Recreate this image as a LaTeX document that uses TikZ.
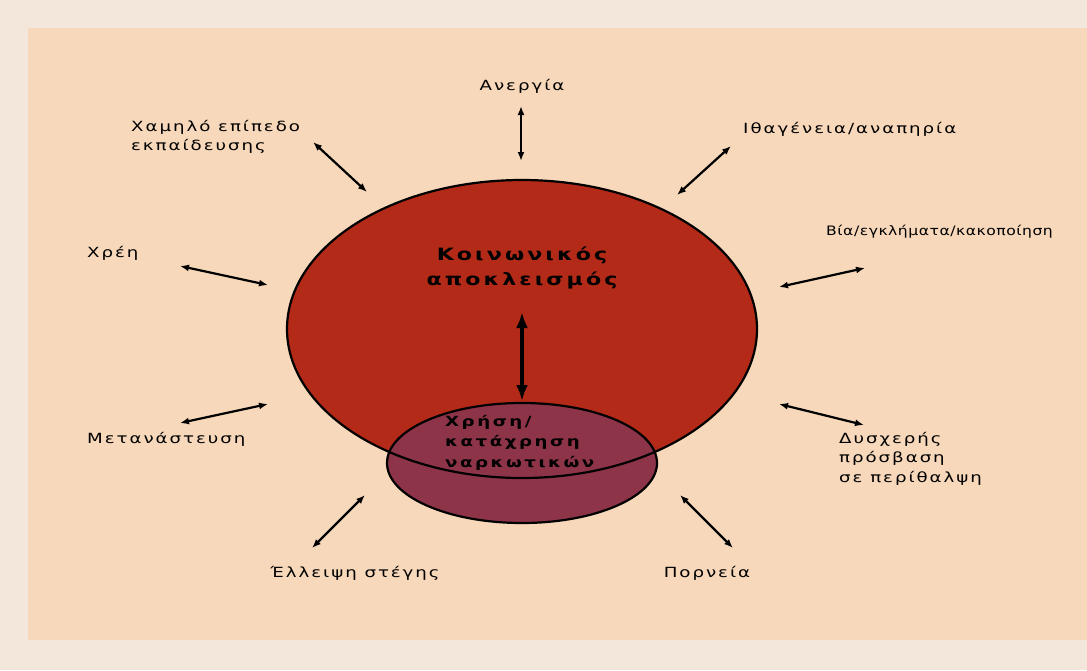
\documentclass[tikz,border=0pt]{standalone}
\usepackage{fontspec}
\usepackage{tikz}
\usetikzlibrary{arrows.meta, shapes.geometric}
\newfontfamily\lblfont[FakeStretch=1.3, LetterSpace=14]{DejaVu Sans}
\newfontfamily\narrowfont[FakeStretch=1.2, LetterSpace=4]{DejaVu Sans}
\newfontfamily\midfont[FakeStretch=1.3, LetterSpace=18]{DejaVu Sans}
\definecolor{pagecolor}{RGB}{243,230,218}
\definecolor{peachcolor}{RGB}{247,216,186}
\definecolor{exclcolor}{RGB}{180,42,24}
\definecolor{drugcolor}{RGB}{142,52,72}
\tikzset{
  factor/.style={font=\lblfont\fontsize{14}{19.5}\selectfont, align=left,
                 inner sep=0pt},
  link/.style={{Latex[length=9pt,width=7pt]}-{Latex[length=9pt,width=7pt]},
               line width=2.2pt, draw=black},
  biglink/.style={{Latex[length=16pt,width=12pt]}-{Latex[length=16pt,width=12pt]},
                  line width=4.5pt, draw=black},
  inner/.style={font=\midfont\bfseries\fontsize{14}{20.5}\selectfont,
                align=left, inner sep=0pt},
}

\begin{document}
\begin{tikzpicture}[x=1pt, y=-1pt]
  % Background
  \fill[pagecolor] (0,0) rectangle (1087,670);
  \useasboundingbox (0,0) rectangle (1087,670);
  \fill[peachcolor] (28,28) rectangle (1087,640);

  % Ellipses
  \node[ellipse, fill=exclcolor, minimum width=470pt, minimum height=298pt,
        inner sep=0pt] (excl) at (522,329) {};
  \node[ellipse, draw, line width=2.2pt, fill=drugcolor, minimum width=270pt,
        minimum height=120pt, inner sep=0pt] (drug) at (522,463) {};
  \draw[line width=2.2pt] (522,329) ellipse [x radius=235, y radius=149];

  % Centre texts
  \node[font=\midfont\bfseries\fontsize{17}{25}\selectfont, align=center,
        inner sep=0pt] (title) at (522,268) {Κοινωνικός\\αποκλεισμός};
  \node[inner, anchor=north west] (use) at (445,415)
    {Χρήση/\\κατάχρηση\\ναρκωτικών};
  \coordinate (cTop) at (522,312);
  \coordinate (cBot) at (522,401);
  \draw[biglink] (cTop) -- (cBot);

  % Factors
  \node[factor, anchor=south] (unemp) at (522,94) {Ανεργία};
  \node[factor, anchor=north west] (edu) at (131,120)
    {Χαμηλό επίπεδο\\εκπαίδευσης};
  \node[factor, anchor=north west] (citi) at (743,122)
    {Ιθαγένεια/αναπηρία};
  \node[factor, anchor=north west, font=\narrowfont\fontsize{13}{19.5}\selectfont]
    (crime) at (826,225) {Βία/εγκλήματα/κακοποίηση};
  \node[factor, anchor=north west] (debt) at (87,246) {Χρέη};
  \node[factor, anchor=north west] (migr) at (87,432) {Μετανάστευση};
  \node[factor, anchor=north west] (care) at (839,432)
    {Δυσχερής\\πρόσβαση\\σε περίθαλψη};
  \node[factor, anchor=north] (home) at (355,566) {Έλλειψη στέγης};
  \node[factor, anchor=north] (prost) at (707,566) {Πορνεία};

  % Arrow ends
  \coordinate (u1) at (521,106);  \coordinate (u2) at (521,161);
  \coordinate (e1) at (313,142);  \coordinate (e2) at (367,192);
  \coordinate (i1) at (731,146);  \coordinate (i2) at (677,195);
  \coordinate (v1) at (865,268);  \coordinate (v2) at (779,287);
  \coordinate (d1) at (180,266);  \coordinate (d2) at (268,285);
  \coordinate (m1) at (180,423);  \coordinate (m2) at (268,404);
  \coordinate (p1) at (864,425);  \coordinate (p2) at (779,404);
  \coordinate (h1) at (312,548);  \coordinate (h2) at (365,495);
  \coordinate (r1) at (733,548);  \coordinate (r2) at (680,495);

  % Links
  \draw[link] (u1) -- (u2);
  \draw[link] (e1) -- (e2);
  \draw[link] (i1) -- (i2);
  \draw[link] (v1) -- (v2);
  \draw[link] (d1) -- (d2);
  \draw[link] (m1) -- (m2);
  \draw[link] (p1) -- (p2);
  \draw[link] (h1) -- (h2);
  \draw[link] (r1) -- (r2);
\end{tikzpicture}
\end{document}
